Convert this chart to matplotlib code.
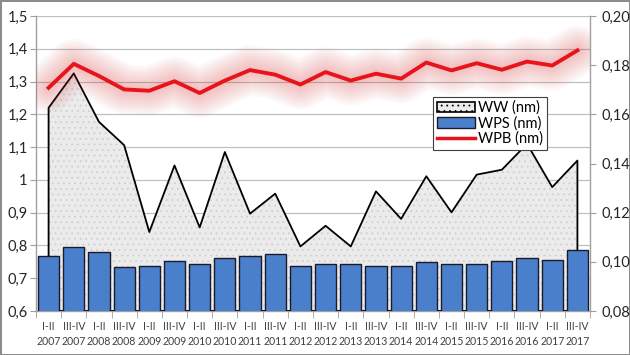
import numpy as np
import matplotlib.pyplot as plt
from matplotlib.patches import Patch
from matplotlib.lines import Line2D
from matplotlib.ticker import FuncFormatter, FixedLocator

plt.rcParams['font.family'] = ['Lato', 'DejaVu Sans']
plt.rcParams['hatch.color'] = '#cfcfcf'
plt.rcParams['hatch.linewidth'] = 0.6

# half-year periods
periods = ['I-II', 'III-IV'] * 11
years = [2007, 2007, 2008, 2008, 2009, 2009, 2010, 2010, 2011, 2011, 2012,
         2012, 2013, 2013, 2014, 2014, 2015, 2015, 2016, 2016, 2017, 2017]

# WW, WPB on left axis; WPS on right axis
ww = [1.220, 1.325, 1.177, 1.106, 0.841, 1.044, 0.855, 1.085, 0.897, 0.958, 0.797,
      0.860, 0.797, 0.965, 0.881, 1.011, 0.901, 1.016, 1.031, 1.110, 0.978, 1.059]
wps = [0.1025, 0.1062, 0.1039, 0.0980, 0.0984, 0.1002, 0.0990, 0.1014, 0.1024, 0.1031, 0.0983,
       0.0992, 0.0992, 0.0982, 0.0982, 0.0998, 0.0990, 0.0992, 0.1002, 0.1016, 0.1007, 0.1047]
wpb = [1.281, 1.354, 1.317, 1.276, 1.272, 1.301, 1.265, 1.303, 1.335, 1.321, 1.291,
       1.329, 1.303, 1.324, 1.309, 1.358, 1.334, 1.356, 1.336, 1.361, 1.349, 1.395]

tick_labels = [f'{p}\n{y}' for p, y in zip(periods, years)]
x = np.arange(len(ww))

fig = plt.figure(figsize=(6.3, 3.55), dpi=100, linewidth=2, edgecolor='#8c8c8c')
rect = [36 / 630, 44 / 355, 554 / 630, 295 / 355]
ax = fig.add_axes(rect)
axr = ax.twinx()
axl = fig.add_axes(rect, sharex=ax, sharey=ax)

ax.set_xlim(-0.5, len(ww) - 0.5)
ax.set_ylim(0.6, 1.5)
axr.set_ylim(0.08, 0.20)

# area (WW)
base = ax.get_ylim()[0]
ax.fill_between(x, base, ww, facecolor='#ebebeb', edgecolor='none',
                hatch='...', zorder=2)
ax.fill_between(x, base, ww, facecolor='none', edgecolor='black', linewidth=1.3, zorder=3)
ax.yaxis.grid(True, color='#c0c0c0', linewidth=0.9, zorder=0)
ax.set_axisbelow(True)

# bars (WPS)
axr.bar(x, wps, width=0.84, color='#4a7fcc', edgecolor='#1a1a2a', linewidth=1.0,
        zorder=2)

# line (WPB) with soft glow
for lw in np.arange(36, 5, -3):
    axl.plot(x, wpb, color='#d83030', linewidth=lw, alpha=0.028,
             solid_capstyle='round', solid_joinstyle='round')
axl.plot(x, wpb, color='#e8141b', linewidth=2.8, solid_joinstyle='round')
axl.axis('off')
axl.patch.set_visible(False)

# axes styling
for a in (ax, axr):
    for s in a.spines.values():
        s.set_visible(False)
ax.spines['left'].set_visible(True)
ax.spines['bottom'].set_visible(True)
axr.spines['right'].set_visible(True)
for s in (ax.spines['left'], ax.spines['bottom'], axr.spines['right']):
    s.set_color('#a0a0a0')
    s.set_linewidth(1)

ax.set_yticks(np.arange(0.6, 1.51, 0.1))
ax.yaxis.set_major_formatter(FuncFormatter(
    lambda v, p: '1' if abs(v - 1) < 1e-9 else f'{v:.1f}'.replace('.', ',')))
axr.set_yticks(np.arange(0.08, 0.201, 0.02))
axr.yaxis.set_major_formatter(FuncFormatter(lambda v, p: f'{v:.2f}'.replace('.', ',')))
ax.tick_params(axis='y', length=4, color='#a0a0a0', labelsize=10.5, labelcolor='#262626', pad=2)
axr.tick_params(axis='y', length=4, color='#a0a0a0', labelsize=10.5, labelcolor='#262626', pad=4)

ax.set_xticks(x)
ax.set_xticklabels(tick_labels, linespacing=1.5)
ax.xaxis.set_minor_locator(FixedLocator(np.arange(-0.5, len(ww), 1.0)))
ax.tick_params(axis='x', which='major', length=0, labelsize=7.6, labelcolor='#404040', pad=7)
ax.tick_params(axis='x', which='minor', length=5, color='#a0a0a0')

handles = [Patch(facecolor='#ebebeb', edgecolor='black', hatch='...', linewidth=1.2),
           Patch(facecolor='#4a7fcc', edgecolor='#1a1a2a', linewidth=1.0),
           Line2D([], [], color='#e8141b', linewidth=2.5)]
leg = axl.legend(handles, ['WW (nm)', 'WPS (nm)', 'WPB (nm)'], loc='upper left',
                 bbox_to_anchor=(0.717, 0.725), borderaxespad=0, fancybox=False,
                 framealpha=1, edgecolor='#404040', fontsize=10.5, handlelength=2.6,
                 handleheight=0.75, labelspacing=0.08, borderpad=0.25, handletextpad=0.25)
leg.get_frame().set_linewidth(0.8)
leg.set_zorder(10)

fig.savefig('out.png', dpi=100)
